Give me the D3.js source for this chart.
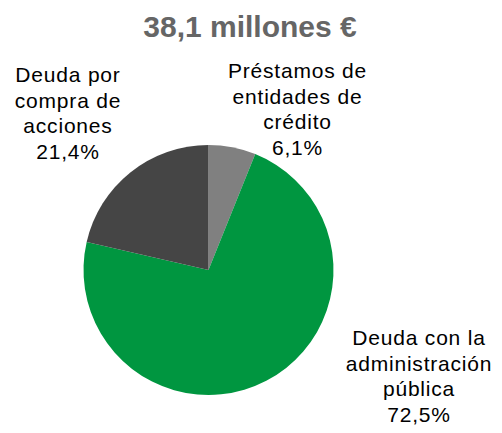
<!DOCTYPE html>
<html>
<head>
<meta charset="utf-8">
<script src="https://cdn.jsdelivr.net/npm/d3@7"></script>
<style>
  body { margin: 0; background: #fff; }
  svg { display: block; font-family: "Liberation Sans", Arial, sans-serif; }
</style>
</head>
<body>
<svg></svg>
<script>
const title = "38,1 millones €";
const categories = [
  "Préstamos de entidades de crédito",
  "Deuda con la administración pública",
  "Deuda por compra de acciones",
];
const shares = [6.1, 72.5, 21.4];
const labelLines = [
  ["Préstamos de", "entidades de", "crédito", "6,1%"],
  ["Deuda con la", "administración", "pública", "72,5%"],
  ["Deuda por", "compra de", "acciones", "21,4%"],
];
const colors = ["#808080", "#009640", "#454545"];

const width = 502;
const height = 433;
const cx = 208.5;
const cy = 270;
const radius = 125;

const svg = d3.select("svg").attr("width", width).attr("height", height);

svg
  .append("text")
  .attr("x", 250)
  .attr("y", 37)
  .attr("text-anchor", "middle")
  .attr("font-size", 30)
  .attr("font-weight", "bold")
  .attr("fill", "#666666")
  .text(title);

const values = categories.map((c, i) => ({ name: c, value: shares[i], i: i }));

const pie = d3.pie().sort(null).value((d) => d.value);
const arc = d3.arc().innerRadius(0).outerRadius(radius);

const g = svg.append("g").attr("transform", "translate(" + cx + "," + cy + ")");

g.selectAll("path")
  .data(pie(values))
  .enter()
  .append("path")
  .attr("d", arc)
  .attr("fill", (d) => colors[d.data.i]);

// label blocks: centre x and first baseline
const labelPos = [
  [297.5, 78],
  [419, 345],
  [68, 82],
];

labelLines.forEach((lines, i) => {
  const t = svg
    .append("text")
    .attr("text-anchor", "middle")
    .attr("font-size", 21)
    .attr("letter-spacing", 0.8)
    .attr("fill", "#000");
  lines.forEach((line, k) => {
    t.append("tspan")
      .attr("x", labelPos[i][0])
      .attr("y", labelPos[i][1] + k * 25.5)
      .text(line);
  });
});
</script>
</body>
</html>
